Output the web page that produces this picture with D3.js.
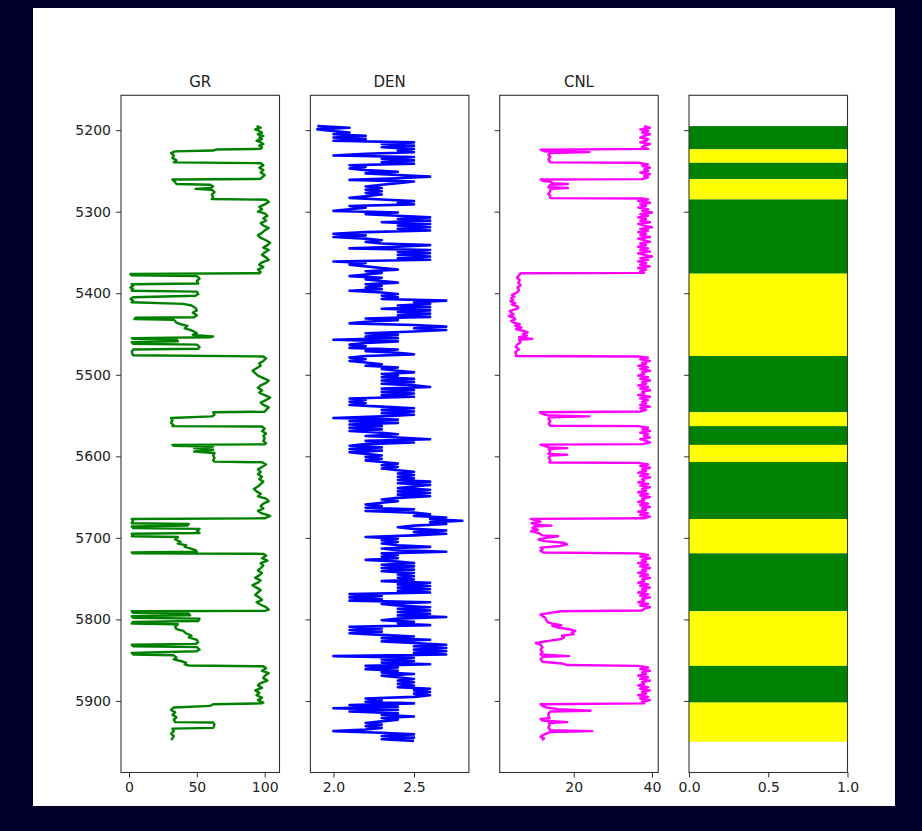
<!DOCTYPE html>
<html><head><meta charset="utf-8">
<script src="https://cdn.jsdelivr.net/npm/d3@7"></script>
<style>
html,body{margin:0;padding:0;background:#00002a;}
svg{display:block;}
text{font-family:"DejaVu Sans",sans-serif;}
</style></head><body>
<svg id="chart" width="922" height="831"></svg>
<script>
// ---------------- DATA ----------------
const trackTitles = ["GR", "DEN", "CNL", ""];
const depthTicks = [5200, 5300, 5400, 5500, 5600, 5700, 5800, 5900];
const grTicks = [0, 50, 100];
const denTicks = [2.0, 2.5];
const cnlTicks = [20, 40];
const lithTicks = [0.0, 0.5, 1.0];

// GR : [depth, API]
const gr = [
[5195,94],[5197,97],[5199,93],[5201,96],[5203,98],[5205,95],[5207,99],[5209,96],[5211,98],[5213,94],[5215,97],[5217,99],[5219,96],[5221,98],[5223,97],
[5223.8,64],[5225,62],[5226,34],[5228,31],[5231,33],[5234,32],[5237,35],[5239.5,33],
[5240.5,97],[5243,99],[5246,96],[5249,99],[5252,97],[5255,100],[5258,98],[5259.8,97],
[5260.6,32],[5262,33],[5264,34],[5266,35],[5267,60],[5269,62],[5271,60],[5272,49],[5273,61],[5276,63],[5279,61],[5282,62],[5284.5,61],
[5285.3,101],[5288,103],[5291,100],[5294,96],[5297,98],[5300,95],[5302,100],[5305,102],[5308,99],[5311,101],[5314,97],[5317,99],[5320,103],[5323,100],[5326,98],[5329,95],[5332,97],[5335,101],[5338,104],[5341,102],[5344,99],[5347,103],[5350,100],[5353,98],[5356,101],[5359,103],[5362,98],[5365,96],[5368,99],[5371,95],[5374,97],[5375.5,96],
[5376.3,1],[5378,2],[5379,50],[5382,52],[5385,50],[5388,51],[5389,2],[5391,3],[5393,1],[5395,3],[5397,2],[5398,50],[5401,51],[5403,49],[5405,3],[5407,1],[5409,3],[5411,2],[5413,40],[5415,46],[5418,49],[5421,50],[5424,47],[5427,50],[5429.5,48],[5430,5],[5431.5,4],[5432.5,33],[5436,35],[5438,38],[5440,43],[5443,41],[5445,45],[5447,48],[5449,50],[5451,47],[5453,62],
[5454,60],[5455,2],[5456,3],[5457,35],[5459,36],[5460,2],[5462,3],[5463,50],[5466,52],[5468,51],[5469,3],[5472,2],[5476,3],
[5477.5,99],[5480,101],[5483,99],[5486,96],[5489,97],[5492,94],[5495,91],[5498,93],[5501,95],[5504,99],[5507,103],[5510,101],[5513,97],[5516,95],[5519,98],[5522,96],[5525,100],[5528,104],[5531,101],[5534,97],[5537,99],[5540,103],[5543,101],[5545.3,100],
[5546,62],[5549,63],[5551,61],[5553,31],[5556,32],[5559,31],[5562,33],[5563,32],
[5563.5,98],[5566,100],[5569,98],[5572,101],[5575,99],[5578,100],[5581,99],[5584,101],[5585.3,100],
[5586,32],[5587,33],[5588,62],[5590,48],[5592,62],[5594,48],[5596,63],[5599,62],[5602,63],[5605,62],[5606.5,63],
[5607.3,98],[5610,101],[5613,98],[5616,95],[5619,97],[5622,95],[5625,98],[5628,96],[5631,99],[5634,97],[5637,95],[5640,92],[5643,94],[5646,97],[5649,95],[5652,101],[5655,103],[5658,99],[5661,97],[5664,99],[5667,95],[5670,98],[5673,104],[5676,100],
[5676.8,2],[5679,3],[5682,2],[5683,44],[5685,43],[5686,2],[5688,3],[5689,52],[5692,50],[5694,52],[5695,2],[5697,3],[5698,2],[5699,36],[5702,34],[5705,38],[5707,36],[5709,42],[5711,41],[5713,45],[5715,49],[5717,50],[5718,2],[5719,3],
[5719.6,99],[5722,101],[5725,98],[5728,102],[5731,97],[5734,99],[5737,97],[5740,95],[5743,98],[5746,96],[5749,93],[5752,97],[5755,95],[5758,91],[5761,94],[5764,97],[5767,95],[5770,93],[5773,96],[5776,98],[5779,94],[5782,97],[5785,101],[5788,103],[5789.5,100],
[5790,2],[5792,3],[5793,44],[5795,45],[5796,2],[5798,3],[5799,52],[5802,51],[5803,3],[5805,2],[5806,36],[5809,34],[5812,35],[5814,40],[5817,42],[5820,46],[5822,44],[5825,50],[5828,51],[5830,49],[5831,2],[5833,3],[5834,50],[5837,52],[5839,50],[5841,2],[5843,3],[5844,33],[5847,35],[5849,33],[5851,38],[5853,42],[5855,41],[5856.5,44],
[5857.5,99],[5860,101],[5863,98],[5866,103],[5869,100],[5872,99],[5875,102],[5878,97],[5881,95],[5884,98],[5887,93],[5890,96],[5893,94],[5896,98],[5899,95],[5902,99],[5903,98],
[5904,62],[5906,60],[5908,33],[5911,31],[5914,34],[5917,32],[5920,35],[5923,33],[5926,34],[5926.5,62],[5929,63],[5933,62],[5934,32],[5937,33],[5940,31],[5943,33],[5946,32],[5948,31]
];

// DEN : [depth, g/cc]
const den = [
[5195,1.9],[5197,2.1],[5199,1.9],[5201,2.0],[5203,2.1],[5205,2.0],
[5207,2.2],[5209,2.0],[5211,2.2],[5213,2.0],
[5215,2.5],[5217,2.3],[5219,2.5],[5221,2.3],[5223,2.5],[5225,2.4],[5227,2.5],[5229,2.2],[5231,2.0],
[5233,2.5],[5235,2.3],[5237,2.5],[5239,2.3],[5241,2.5],
[5243,2.1],[5245,2.2],[5247,2.1],[5249,2.2],
[5251,2.4],[5253,2.2],[5255,2.4],
[5257,2.6],[5259,2.4],[5261,2.1],[5263,2.5],[5265,2.4],
[5267,2.3],[5269,2.2],[5271,2.3],[5273,2.2],[5275,2.3],[5277,2.2],[5279,2.3],[5281,2.2],[5283,2.1],[5285,2.3],
[5287,2.5],[5289,2.4],[5291,2.5],
[5293,2.1],[5295,2.2],[5297,2.1],[5299,2.0],
[5301,2.4],[5303,2.2],[5305,2.4],
[5307,2.6],[5309,2.4],[5311,2.6],[5313,2.3],[5315,2.6],[5317,2.4],[5319,2.6],[5321,2.4],[5323,2.6],
[5325,2.2],
[5327,2.0],[5329,2.2],[5331,2.0],[5333,2.2],
[5335,2.3],[5337,2.2],[5339,2.3],
[5341,2.6],[5343,2.4],[5345,2.1],[5347,2.6],[5349,2.4],[5351,2.6],[5353,2.4],[5355,2.6],[5357,2.4],[5359,2.6],
[5361,2.0],[5363,2.2],[5365,2.1],[5367,2.2],
[5369,2.3],[5371,2.4],[5373,2.2],[5375,2.3],[5377,2.2],[5379,2.1],[5381,2.3],[5383,2.2],[5385,2.3],[5387,2.4],[5389,2.2],[5391,2.3],[5393,2.2],[5395,2.3],[5397,2.1],[5399,2.3],
[5401,2.4],[5403,2.3],[5405,2.4],[5407,2.3],
[5409,2.7],[5411,2.5],
[5413,2.6],[5415,2.4],[5417,2.6],[5419,2.3],[5421,2.6],[5423,2.4],[5425,2.6],[5427,2.4],[5429,2.6],
[5431,2.2],[5433,2.4],[5435,2.2],
[5437,2.1],[5439,2.5],[5441,2.7],[5443,2.5],[5445,2.7],[5447,2.5],
[5449,2.2],[5451,2.4],[5453,2.2],[5455,2.4],[5457,2.0],
[5459,2.4],[5461,2.2],[5463,2.1],[5465,2.2],[5467,2.1],
[5469,2.4],[5471,2.2],[5473,2.4],[5475,2.5],[5477,2.2],
[5479,2.1],[5481,2.2],[5483,2.1],[5485,2.2],
[5487,2.3],[5489,2.2],
[5491,2.4],[5493,2.3],[5495,2.4],[5497,2.5],[5499,2.3],[5501,2.4],[5503,2.3],[5505,2.5],[5507,2.3],[5509,2.5],[5511,2.3],[5513,2.5],[5515,2.6],[5517,2.3],[5519,2.5],[5521,2.3],[5523,2.5],[5525,2.3],
[5527,2.5],[5529,2.1],[5531,2.2],[5533,2.1],[5535,2.2],
[5537,2.1],[5539,2.3],[5541,2.5],[5543,2.3],[5545,2.5],[5547,2.3],[5549,2.5],[5551,2.3],
[5553,2.0],[5555,2.4],[5557,2.1],[5559,2.4],[5561,2.1],
[5563,2.3],[5565,2.1],[5567,2.3],[5569,2.1],[5571,2.3],
[5573,2.4],[5575,2.2],[5577,2.4],[5579,2.6],
[5581,2.2],[5583,2.5],[5585,2.2],
[5587,2.1],[5589,2.3],[5591,2.1],[5593,2.3],[5595,2.1],
[5597,2.2],[5599,2.3],[5601,2.2],[5603,2.3],[5605,2.2],
[5607,2.3],[5609,2.4],[5611,2.3],[5613,2.4],[5615,2.3],
[5617,2.4],[5619,2.5],[5621,2.4],[5623,2.5],[5625,2.4],[5627,2.5],[5629,2.4],
[5631,2.6],[5633,2.4],[5635,2.6],[5637,2.5],[5639,2.4],[5641,2.6],[5643,2.4],[5645,2.6],[5647,2.4],[5649,2.6],[5651,2.4],
[5653,2.3],[5655,2.4],[5657,2.3],
[5659,2.2],[5661,2.3],[5663,2.2],
[5665,2.5],[5667,2.2],[5669,2.5],
[5671,2.6],[5673,2.5],[5675,2.7],[5677,2.6],[5679,2.8],[5681,2.6],[5683,2.7],[5685,2.5],
[5687,2.4],[5689,2.5],
[5691,2.7],[5693,2.5],[5695,2.7],[5697,2.5],
[5699,2.2],
[5701,2.4],[5703,2.3],[5705,2.4],[5707,2.3],[5709,2.4],[5711,2.6],[5713,2.3],[5715,2.4],[5717,2.7],[5719,2.3],[5721,2.4],[5723,2.3],[5725,2.4],[5727,2.2],[5729,2.4],
[5731,2.5],[5733,2.3],[5735,2.5],[5737,2.3],[5739,2.5],[5741,2.3],[5743,2.5],[5745,2.4],[5747,2.5],[5749,2.4],
[5751,2.5],[5753,2.3],[5755,2.6],[5757,2.4],[5759,2.6],[5761,2.4],[5763,2.6],[5765,2.4],[5767,2.6],
[5769,2.1],[5771,2.3],[5773,2.1],[5775,2.3],
[5777,2.1],[5779,2.6],[5781,2.3],
[5783,2.4],[5785,2.6],[5787,2.4],[5789,2.6],[5791,2.4],[5793,2.6],[5795,2.4],[5797,2.7],[5799,2.4],
[5801,2.3],[5803,2.5],
[5805,2.4],[5807,2.6],
[5809,2.1],[5811,2.3],[5813,2.1],[5815,2.3],[5817,2.1],[5819,2.3],
[5821,2.5],[5823,2.3],[5825,2.6],[5827,2.3],[5829,2.5],
[5831,2.7],[5833,2.5],[5835,2.7],[5837,2.5],[5839,2.7],[5841,2.5],[5843,2.7],
[5845,2.0],
[5847,2.5],[5849,2.3],[5851,2.5],[5853,2.3],[5855,2.6],
[5857,2.2],[5859,2.4],[5861,2.2],[5863,2.4],
[5865,2.3],[5867,2.5],[5869,2.3],[5871,2.4],
[5873,2.5],[5875,2.4],[5877,2.5],[5879,2.4],[5881,2.5],[5883,2.4],
[5885,2.6],[5887,2.5],[5889,2.6],[5891,2.5],[5893,2.6],[5895,2.5],
[5897,2.2],[5899,2.3],[5901,2.2],
[5903,2.5],[5905,2.1],
[5907,2.4],[5909,2.0],[5911,2.4],[5913,2.1],
[5915,2.4],[5917,2.3],[5919,2.5],[5921,2.3],[5923,2.4],[5925,2.3],
[5927,2.2],[5929,2.3],[5931,2.2],[5933,2.3],[5935,2.2],
[5937,2.0],
[5939,2.3],[5941,2.5],[5943,2.3],[5945,2.5],[5947,2.3],[5949,2.5]
];

// CNL : [depth, %]
const cnl = [
[5195,38],[5197,39.5],[5199,37],[5201,39],[5203,37.5],[5205,39.5],[5207,38],[5209,37],[5211,39],[5213,38.5],[5215,37],[5217,39.5],[5219,38],[5221,37.5],[5223,39],
[5224,11.5],[5226,12.5],[5227,24],[5228,14],[5230,13.5],[5233,14],[5236,13.5],[5239.5,14],
[5240,36.5],[5242,39],[5244,37.5],[5246,39.5],[5248,38],[5250,39],[5252,37],[5254,39.5],[5256,38],[5258,39],[5260,37.5],
[5260.5,11.5],[5262,12],[5263,14],[5265,14.5],[5266,18.5],[5267,14],[5270,13.5],[5271,18.5],[5272,14],[5275,14],[5278,13.5],[5281,14],[5283.3,14],
[5283.8,37.5],[5285,39],[5287,36.5],[5289,39.5],[5291,37],[5293,38.5],[5295,36.5],[5297,39],[5299,37.5],[5301,40],[5303,37],[5305,39],[5307,36.5],[5309,38.5],[5311,37],[5313,39.5],[5315,36.5],[5317,38],[5319,40],[5321,37],[5323,39],[5325,36.5],[5327,38.5],[5329,37],[5331,39.5],[5333,36.5],[5335,38],[5337,39.5],[5339,37],[5341,38.5],[5343,36.5],[5345,39],[5347,37],[5349,39.5],[5351,36.5],[5353,38],[5355,40],[5357,37],[5359,39],[5361,36.5],[5363,38.5],[5365,37],[5367,39.5],[5369,36.5],[5371,38.5],[5373,37],[5375,38],
[5375.5,6.4],[5378,6],[5381,5.5],[5384,6.2],[5387,5.8],[5390,6.4],[5393,5.6],[5396,6],[5399,5.5],[5402,4.2],[5404,4.8],[5406,4],[5408,4.5],[5410,3.8],[5412,5],[5414,4.2],[5416,5.6],[5418,5.8],[5420,4.8],[5422,3.6],[5424,4],[5426,4.6],[5428,3.4],[5430,4.8],[5432,5],[5434,4],[5436,4.6],[5438,6.2],[5440,5],[5442,6.6],[5444,5.2],[5446,7],[5448,8.2],[5450,7],[5452,8],[5454,6],[5456,9.4],[5457,6],[5460,6.4],[5463,5.5],[5466,5.2],[5469,6],[5472,5],[5475,5.3],[5477,5.2],
[5477.5,36.5],[5479,39],[5481,37],[5483,39.5],[5485,37.5],[5487,38.5],[5489,36.5],[5491,39],[5493,37],[5495,39.5],[5497,37.5],[5499,38],[5501,36.5],[5503,39],[5505,37],[5507,39.5],[5509,37.5],[5511,38.5],[5513,36.5],[5515,39],[5517,37],[5519,39.5],[5521,37.5],[5523,38],[5525,36.5],[5527,39.5],[5529,37],[5531,39],[5533,37.5],[5535,38.5],[5537,37],[5539,39.5],[5541,37],[5543,38.5],[5545,37],
[5546,11.3],[5548,12],[5550,13.5],[5551,24],[5552,14],[5554,13.5],[5557,14],[5560,13.6],[5562.5,14],
[5563,36.5],[5565,39],[5567,37.5],[5569,39.5],[5571,37],[5573,39],[5575,38],[5577,39.5],[5579,37],[5581,38.5],[5583,39.5],[5585,37.5],
[5585.7,11.5],[5587,12.5],[5589,13.6],[5590,18.3],[5591,13.6],[5594,14],[5597,13.5],[5598,18.3],[5599,14],[5602,13.6],[5605,14],[5607.5,13.8],
[5608,36.5],[5610,39],[5612,37],[5614,39.5],[5616,37.5],[5618,38.5],[5620,36.5],[5622,39],[5624,37],[5626,39.5],[5628,37.5],[5630,38],[5632,36.5],[5634,39],[5636,37],[5638,39.5],[5640,37.5],[5642,38.5],[5644,36.5],[5646,39],[5648,37],[5650,39.5],[5652,37.5],[5654,38],[5656,36.5],[5658,39],[5660,37],[5662,39.5],[5664,37.5],[5666,38.5],[5668,36.5],[5670,39],[5672,37],[5674,39.5],[5676,38],
[5676.7,9],[5678,10],[5680,11.5],[5682,9.2],[5684,10.5],[5685,14.3],[5686,10],[5688,9.4],[5690,10.8],[5692,9],[5694,11],[5697,12],[5698,16],[5700,13],[5702,11],[5704,12.5],[5706,17.5],[5708,18.3],[5710,16.5],[5712,11.5],[5714,12],[5716,11.5],[5718,12.2],
[5719,36.5],[5721,39],[5723,37],[5725,39.5],[5727,37.5],[5729,38.5],[5731,36.5],[5733,39],[5735,37],[5737,39.5],[5739,37.5],[5741,38.5],[5743,36.5],[5745,39],[5747,37],[5749,39.5],[5751,37.5],[5753,38],[5755,36.5],[5757,39],[5759,37],[5761,39.5],[5763,37.5],[5765,38.5],[5767,36.5],[5769,39],[5771,37],[5773,39.5],[5775,37.5],[5777,38],[5779,36.5],[5781,39],[5783,37],[5785,39.5],[5787,38],[5789,37.5],
[5790,16.8],[5792,14],[5794,11.5],[5796,12],[5798,12.7],[5801,13],[5803,13.2],[5805,14.3],[5807,16.8],[5808,14.5],[5810,16],[5812,18.8],[5814,20.4],[5816,19.5],[5818,20],[5820,17],[5822,17.5],[5824,16.8],[5826,14],[5829,10.3],[5831,11.5],[5834,12],[5837,11.5],[5840,12],[5843,11.5],[5845,18.8],[5846,12],[5849,11.5],[5852,12],[5854,17],[5856,18.3],
[5857,36.5],[5859,39],[5861,37],[5863,39.5],[5865,37.5],[5867,38.5],[5869,36.5],[5871,39],[5873,37],[5875,39.5],[5877,37.5],[5879,38],[5881,36.5],[5883,39],[5885,37],[5887,39.5],[5889,37.5],[5891,38.5],[5893,36.5],[5895,39],[5897,37],[5899,39.5],[5901,37.5],[5903,38],
[5904,11.5],[5906,12],[5908,13],[5910,16],[5912,24.3],[5913,14],[5915,13.6],[5918,13.5],[5921,13.8],[5922,11.5],[5924,12],[5926,18.3],[5927,13.6],[5930,13.8],[5933,13.5],[5936,14],[5937,24.7],[5938,14],[5940,13],[5942,12],[5944,11.5],[5946,12.4],[5948,11.8]
];

// Lithology bands
const lithTop  = [5195, 5223.5, 5240, 5260, 5285, 5376, 5477, 5546, 5563, 5586, 5607, 5677, 5719, 5790, 5857, 5902];
const lithBase = [5223.5, 5240, 5260, 5285, 5376, 5477, 5546, 5563, 5586, 5607, 5677, 5719, 5790, 5857, 5902, 5950];
const lithType = ["shale","sand","shale","sand","shale","sand","shale","sand","shale","sand","shale","sand","shale","sand","shale","sand"];
const lithColor = {shale: "#008000", sand: "#ffff00"};

// ---------------- DRAW ----------------
const W = 922, H = 831;
const svg = d3.select("#chart");
svg.append("rect").attr("width", W).attr("height", H).attr("fill", "#00002a");
svg.append("rect").attr("x", 33).attr("y", 8).attr("width", 862).attr("height", 798).attr("fill", "#ffffff");

const plotTop = 95.3, plotBottom = 772.5, pw = 158.5;
const lefts = [121, 310.4, 499.7, 689];
const y = d3.scaleLinear().domain([5157.25, 5987.75]).range([plotTop, plotBottom]);

const panels = [
  {title: trackTitles[0], data: gr,  domain: [-5.9, 110.9], ticks: grTicks,  fmt: d3.format("d"),   color: "#008000", width: 2.4},
  {title: trackTitles[1], data: den, domain: [1.857, 2.841], ticks: denTicks, fmt: d3.format(".1f"), color: "#0000ff", width: 2.6},
  {title: trackTitles[2], data: cnl, domain: [1.05, 41.6],  ticks: cnlTicks, fmt: d3.format("d"),   color: "#ff00ff", width: 2.4},
  {title: trackTitles[3], data: null, domain: [0, 1],       ticks: lithTicks, fmt: d3.format(".1f"), color: null}
];

const textColor = "#222";
const fs = 14;

panels.forEach((p, i) => {
  const x0 = lefts[i];
  const x = d3.scaleLinear().domain(p.domain).range([x0, x0 + pw]);
  const g = svg.append("g");
  const clipId = "clip" + i;
  svg.append("clipPath").attr("id", clipId)
    .append("rect").attr("x", x0).attr("y", plotTop).attr("width", pw).attr("height", plotBottom - plotTop);

  if (p.data) {
    const line = d3.line().x(d => x(d[1])).y(d => y(d[0]));
    g.append("path").datum(p.data)
      .attr("clip-path", `url(#${clipId})`)
      .attr("fill", "none").attr("stroke", p.color)
      .attr("stroke-width", p.width).attr("stroke-linejoin", "round")
      .attr("d", line);
  } else {
    g.selectAll("rect.lith").data(lithTop.map((t, k) => ({top: t, base: lithBase[k], type: lithType[k]})))
      .enter().append("rect").attr("class", "lith")
      .attr("clip-path", `url(#${clipId})`)
      .attr("x", x(0)).attr("width", x(1) - x(0))
      .attr("y", d => y(d.top)).attr("height", d => y(d.base) - y(d.top))
      .attr("fill", d => lithColor[d.type]);
  }

  g.append("rect").attr("x", x0).attr("y", plotTop).attr("width", pw).attr("height", plotBottom - plotTop)
    .attr("fill", "none").attr("stroke", "#333").attr("stroke-width", 1.1);

  const ax = g.append("g").attr("transform", `translate(0,${plotBottom})`)
    .call(d3.axisBottom(x).tickValues(p.ticks).tickFormat(p.fmt).tickSize(5).tickPadding(5));
  ax.select(".domain").remove();
  ax.selectAll("line").attr("stroke", "#333");
  ax.selectAll("text").attr("fill", textColor).style("font-size", fs + "px").style("font-family", "DejaVu Sans, sans-serif");

  const ay = g.append("g").attr("transform", `translate(${x0},0)`)
    .call(d3.axisLeft(y).tickValues(depthTicks).tickFormat(i === 0 ? d3.format("d") : () => "").tickSize(5).tickPadding(5));
  ay.select(".domain").remove();
  ay.selectAll("line").attr("stroke", "#333");
  ay.selectAll("text").attr("fill", textColor).style("font-size", fs + "px").style("font-family", "DejaVu Sans, sans-serif");

  if (p.title) {
    g.append("text").attr("x", x0 + pw / 2).attr("y", plotTop - 8)
      .attr("text-anchor", "middle").attr("fill", textColor)
      .style("font-size", "15px").text(p.title);
  }
});
</script>
</body></html>
